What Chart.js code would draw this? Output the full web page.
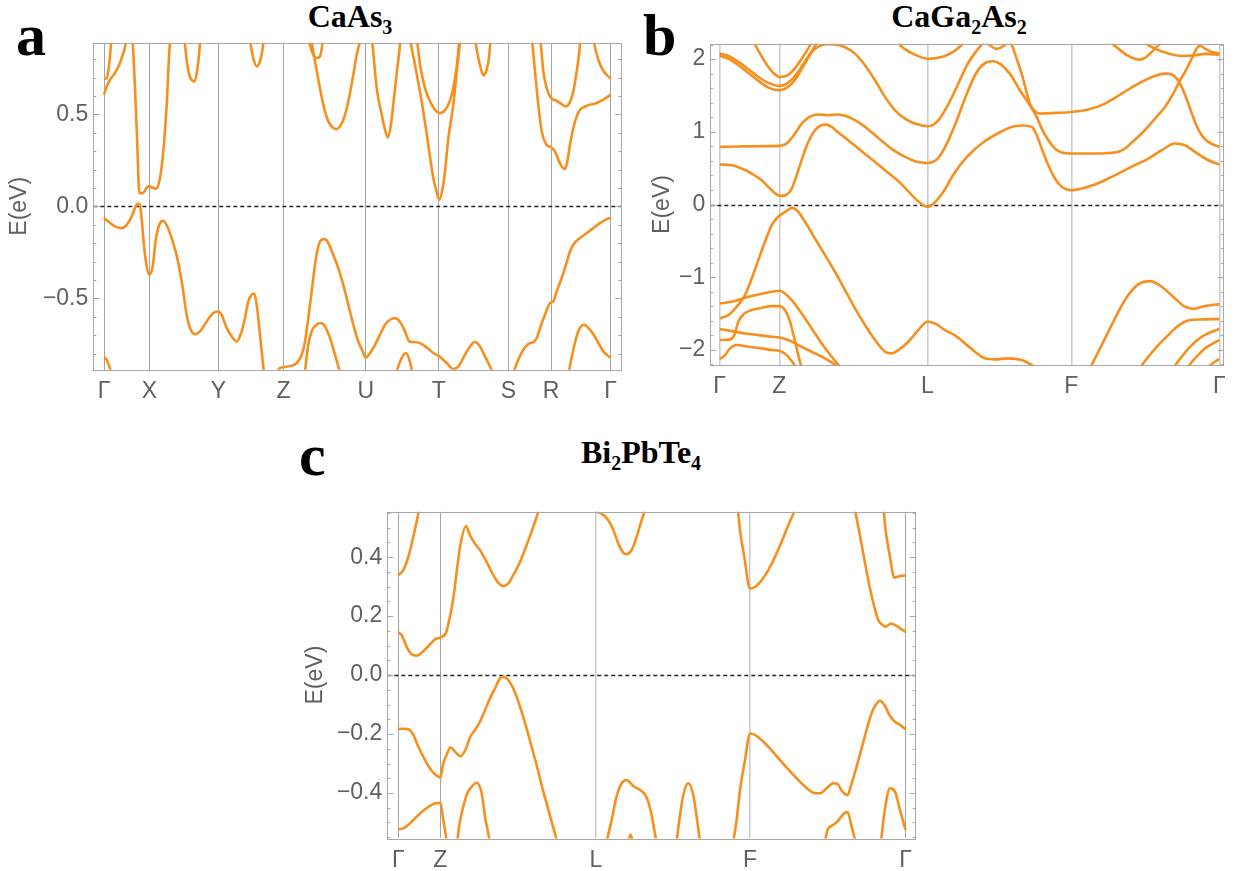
<!DOCTYPE html>
<html lang="en">
<head>
<meta charset="UTF-8">
<title>Band structures</title>
<script src="https://cdn.jsdelivr.net/npm/chart.js"></script>
<style>
  body { margin:0; background:#fff; width:1260px; height:871px; position:relative; overflow:hidden; font-family:"Liberation Sans", Arial, sans-serif; }
  .panel { position:absolute; }
  .letter { position:absolute; font-family:"Liberation Serif", serif; font-weight:bold; font-size:60px; line-height:1; color:#000; }
  .title { position:absolute; font-family:"Liberation Serif", serif; font-weight:bold; font-size:32px; line-height:1; transform:translateX(-50%); white-space:nowrap; color:#000; }
  .title sub { font-size:20px; vertical-align:-7px; line-height:0; }
</style>
</head>
<body>
  <div class="letter" style="left:16px; top:5px;">a</div>
  <div class="title" style="left:350px; top:0px;">CaAs<sub>3</sub></div>
  <div class="panel" style="left:0px; top:23.9px; width:640px; height:386.1px;"><canvas id="chartA"></canvas></div>

  <div class="letter" style="left:643px; top:5px;">b</div>
  <div class="title" style="left:959px; top:0px;">CaGa<sub>2</sub>As<sub>2</sub></div>
  <div class="panel" style="left:643px; top:24.5px; width:600px; height:385.5px;"><canvas id="chartB"></canvas></div>

  <div class="letter" style="left:299px; top:425px;">c</div>
  <div class="title" style="left:641px; top:436px;">Bi<sub>2</sub>PbTe<sub>4</sub></div>
  <div class="panel" style="left:296px; top:492.9px; width:640px; height:387.1px;"><canvas id="chartC"></canvas></div>

<script>
// ---- panel a: CaAs3 ----
const kPointsA = [0, 45.3, 114.3, 179.5, 261.7, 334.7, 404.3, 447, 506.7];
const kLabelsA = ['Γ', 'X', 'Y', 'Z', 'U', 'T', 'S', 'R', 'Γ'];
const eTicksA = [-0.5, 0, 0.5];
const eLabelsA = ['−0.5', '0.0', '0.5'];
const bandsA = [
  [[0,0.694],[2.7,0.697],[4.7,0.752],[6.7,0.861],[8,0.951]],
  [[0,0.607],[2.7,0.652],[6,0.688],[11,0.725],[15.3,0.77],[19.3,0.833],[22,0.889],[24.3,0.969],[26.7,0.969],[28.7,0.889],[31,0.643],[33.3,0.335],[35.3,0.072],[38.7,0.072],[44.3,0.109],[52,0.096],[56,0.154],[59.3,0.299],[62.7,0.553],[65.3,0.842],[66.7,0.933]],
  [[0,-0.063],[4.3,-0.082],[11,-0.109],[17.7,-0.118],[22.7,-0.1],[27.7,-0.054],[32.7,0.009],[35.3,0.014],[36.7,-0.018],[39.3,-0.172],[41,-0.263],[45.3,-0.371],[48.7,-0.326],[52,-0.172],[56,-0.091],[59.3,-0.078],[63.3,-0.109],[68.7,-0.19],[73.3,-0.281],[77.7,-0.408],[82.7,-0.589],[86,-0.661],[91,-0.694],[96,-0.679],[102.7,-0.625],[109.3,-0.58],[114.3,-0.571],[117.7,-0.589],[122.7,-0.661],[127.7,-0.707],[132.7,-0.734],[137.7,-0.679],[141,-0.607],[144.3,-0.516],[147.7,-0.48],[150.3,-0.473],[152.7,-0.534],[156,-0.697],[159.3,-0.87],[162,-0.97],[171,-0.97],[174.3,-0.888],[179.3,-0.873],[186,-0.868],[192.7,-0.851],[197.7,-0.806],[201,-0.734],[204.3,-0.607],[207.7,-0.462],[211,-0.317],[214.3,-0.217],[217.7,-0.181],[221,-0.178],[224.3,-0.199],[229.3,-0.263],[234.3,-0.335],[239.3,-0.426],[244.3,-0.534],[249.3,-0.643],[254.3,-0.734],[258.7,-0.788],[261.7,-0.821],[266,-0.797],[271,-0.752],[276,-0.697],[281,-0.643],[286,-0.616],[291,-0.607],[294.3,-0.616],[297.7,-0.643],[301,-0.679],[305.3,-0.734],[309.3,-0.737],[316,-0.743],[322.7,-0.766],[329.3,-0.797],[336,-0.818],[342.7,-0.851],[349.3,-0.884],[354.3,-0.87],[361,-0.806],[366,-0.761],[371,-0.737],[376,-0.761],[381,-0.815],[386,-0.87],[391,-0.933]],
  [[0,-0.821],[2.7,-0.833],[5.3,-0.87],[8,-0.915]],
  [[79.3,0.951],[81,0.879],[83.3,0.77],[86.7,0.694],[90.7,0.679],[93.3,0.743],[95.3,0.842],[96.7,0.951]],
  [[144.7,0.951],[146.7,0.879],[149.3,0.806],[152.7,0.761],[156,0.788],[158.7,0.861],[160.7,0.951]],
  [[203.3,0.951],[205.3,0.889],[209.3,0.824],[212.7,0.806],[216,0.815],[218.3,0.879],[220,0.951]],
  [[206,0.951],[207.7,0.889],[211,0.788],[215.3,0.661],[219.3,0.553],[224.3,0.462],[229.3,0.426],[232.7,0.42],[236,0.435],[240,0.48],[244.3,0.571],[248.7,0.697],[252.7,0.824],[256,0.897],[258,0.95]],
  [[266.7,0.951],[268.3,0.889],[272.7,0.643],[277.7,0.498],[281,0.417],[283.7,0.375],[286.7,0.435],[290,0.589],[293.3,0.752],[296,0.879],[297,0.951]],
  [[305,0.951],[306.7,0.889],[311,0.77],[315.3,0.643],[319.3,0.516],[323.3,0.371],[326.7,0.245],[329.3,0.154],[332,0.091],[335.3,0.036],[338.7,0.1],[341,0.19],[344.3,0.37],[349.3,0.55],[352.7,0.73],[356,0.89],[357.5,0.95]],
  [[311,0.951],[313.3,0.889],[316,0.77],[321,0.643],[326,0.571],[331,0.525],[335.3,0.507],[339.3,0.513],[344.3,0.553],[347.7,0.607],[351,0.697],[353.7,0.806],[356,0.951]],
  [[370,0.951],[371.7,0.889],[374.3,0.806],[376.7,0.752],[379.3,0.712],[382.7,0.743],[385.3,0.824],[387,0.951]],
  [[426.7,0.951],[428.3,0.889],[431,0.734],[434.3,0.553],[437.7,0.408],[442,0.339],[447,0.321],[451,0.299],[454.3,0.254],[457.7,0.217],[461,0.203],[463.3,0.245],[466,0.335],[469.3,0.426],[472.7,0.489],[476,0.525],[481,0.543],[486,0.553],[492.7,0.562],[499.3,0.58],[506.7,0.607]],
  [[435,0.951],[436.7,0.889],[439.3,0.734],[442.7,0.643],[447,0.589],[452.7,0.574],[457.7,0.556],[462,0.543],[466,0.567],[469.3,0.625],[472.7,0.734],[475.3,0.842],[477,0.951]],
  [[487.7,0.951],[490,0.889],[494.3,0.797],[499.3,0.737],[506.7,0.694]],
  [[199.3,-0.97],[201,-0.897],[204.3,-0.752],[207.7,-0.679],[212.7,-0.643],[216.7,-0.634],[221,-0.652],[226,-0.716],[231,-0.806],[235.3,-0.888],[237.7,-0.933]],
  [[291,-0.95],[293.3,-0.888],[297.7,-0.824],[302,-0.797],[305.3,-0.833],[307.7,-0.888],[309.3,-0.95]],
  [[407.7,-0.951],[410,-0.897],[414.3,-0.833],[419.3,-0.779],[424.3,-0.748],[429.3,-0.737],[432.7,-0.716],[436,-0.661],[441,-0.589],[446,-0.525],[449.3,-0.516],[452.7,-0.462],[457.7,-0.389],[462,-0.317],[466,-0.245],[469.3,-0.208],[476,-0.172],[482.7,-0.145],[489.3,-0.118],[496,-0.091],[502.7,-0.069],[506.7,-0.063]],
  [[463.7,-0.951],[465.3,-0.888],[469.3,-0.779],[474.3,-0.679],[480,-0.643],[486,-0.67],[492.7,-0.725],[499.3,-0.788],[506.7,-0.824]]
];

// ---- panel b: CaGa2As2 ----
const kPointsB = [0, 59.6, 207.6, 351.6, 499.6];
const kLabelsB = ['Γ', 'Z', 'L', 'F', 'Γ'];
const eTicksB = [-2, -1, 0, 1, 2];
const eLabelsB = ['−2', '−1', '0', '1', '2'];
const bandsB = [
  [[0,0.55],[12,0.541],[22,0.495],[32,0.426],[42,0.334],[50.3,0.22],[57,0.137],[61.3,0.119],[67,0.137],[71.3,0.197],[75.3,0.334],[80.3,0.541],[85.3,0.747],[92,0.953],[100.3,1.081],[107,1.099],[112,1.067],[118.6,0.989],[128.6,0.884],[138.6,0.77],[152,0.623],[165.3,0.472],[178.6,0.321],[188.6,0.183],[197,0.06],[203.6,-0.009],[207.6,-0.032],[212,-0.009],[218.6,0.082],[225.3,0.21],[233.6,0.41],[247,0.651],[263.6,0.857],[280.3,0.994],[293.6,1.072],[303.6,1.086],[312,1.067],[317,0.953],[322,0.77],[328.6,0.541],[335.3,0.357],[342,0.243],[351.6,0.197],[362,0.22],[375.3,0.275],[388.6,0.357],[402,0.449],[415.3,0.541],[428.6,0.632],[442,0.747],[455.3,0.838],[465.3,0.815],[475.3,0.724],[488.6,0.609],[499.6,0.55]],
  [[0,0.792],[18.6,0.797],[38.6,0.802],[59.6,0.806],[65.3,0.825],[70.3,0.884],[75.3,0.976],[80.3,1.081],[85.3,1.159],[92,1.219],[100.3,1.237],[108.6,1.228],[117,1.237],[125.3,1.219],[135.3,1.159],[145.3,1.067],[155.3,0.953],[165.3,0.838],[175.3,0.733],[185.3,0.655],[195.3,0.596],[202,0.577],[207.6,0.57],[213.6,0.59],[218.6,0.64],[227,0.834],[237,1.155],[247,1.521],[257,1.819],[267,1.956],[273.6,1.97],[280.3,1.934],[290.3,1.796],[300.3,1.567],[310.3,1.361],[317,1.205],[322,1.044],[328.6,0.884],[335.3,0.77],[342,0.715],[351.6,0.701],[368.6,0.701],[385.3,0.705],[398.6,0.724],[405.3,0.77],[412,0.852],[422,0.976],[435.3,1.182],[445.3,1.342],[453.6,1.525],[458.6,1.663],[465.3,1.823],[472,2.006],[477,2.144],[480.3,2.181],[485.3,2.144],[492,2.098],[499.6,2.075]],
  [[0,2.075],[8.7,2.043],[18.7,1.961],[28.7,1.86],[38.7,1.754],[48.7,1.672],[59.7,1.631],[67,1.663],[73.7,1.741],[80.3,1.86],[87,2.006],[93.7,2.121],[100.3,2.181],[108.7,2.203],[117,2.199],[125.3,2.162],[135.3,2.075],[145.3,1.915],[155.3,1.709],[165.3,1.48],[175.3,1.296],[185.3,1.182],[195.3,1.113],[208.3,1.077],[217,1.132],[227,1.338],[237,1.613],[247,1.911],[257,2.117],[262,2.2],[265,2.24],[269,2.2],[277,2.14],[286,2.2],[289,2.24],[292,2.2],[295.3,2.071],[302,1.796],[310.3,1.384],[315.3,1.283],[320.3,1.251],[335.3,1.26],[351.6,1.273],[368.6,1.306],[385.3,1.388],[402,1.525],[418.6,1.663],[435.3,1.768],[445.3,1.8],[452,1.787],[457,1.732],[462,1.617],[468.6,1.388],[475.3,1.136],[482,0.953],[488.6,0.861],[499.6,0.792]],
  [[0,2.043],[8.7,2.006],[18.7,1.915],[28.7,1.809],[38.7,1.7],[48.7,1.608],[59.7,1.571],[67,1.603],[73.7,1.686],[80.3,1.823],[87,1.984],[92.7,2.121],[97,2.217],[100.3,2.3]],
  [[32,2.3],[34.7,2.217],[40.3,2.075],[48.7,1.892],[55.3,1.787],[59.7,1.754],[65.3,1.763],[72,1.823],[78.7,1.938],[85.3,2.075],[90.3,2.19],[92.7,2.258]],
  [[175,2.3],[178.6,2.217],[185,2.14],[193.6,2.071],[208.3,2.002],[223.6,2.034],[235.3,2.117],[243,2.208],[245,2.25]],
  [[0,-1.567],[8.6,-1.521],[17,-1.406],[25.3,-1.246],[32,-1.017],[38.6,-0.765],[45.3,-0.513],[52,-0.284],[57,-0.192],[59.6,-0.156],[65.3,-0.101],[72.6,-0.046],[78.6,-0.101],[85.3,-0.238],[95.3,-0.467],[105.3,-0.696],[115.3,-0.925],[125.3,-1.177],[135.3,-1.429],[145.3,-1.658],[155.3,-1.864],[165.3,-2.025],[172,-2.048],[178.6,-2.002],[188.6,-1.887],[198.6,-1.727],[207.6,-1.612],[215.3,-1.635],[225.3,-1.727],[235.3,-1.8],[245.3,-1.91],[255.3,-2.025],[265.3,-2.116],[275.3,-2.13],[288.6,-2.116],[302,-2.139],[315.3,-2.231]],
  [[0,-1.36],[12,-1.338],[25.3,-1.283],[38.6,-1.237],[52,-1.2],[59.6,-1.186],[65.3,-1.223],[72,-1.315],[82,-1.498],[92,-1.704],[102,-1.91],[112,-2.093],[120.3,-2.231]],
  [[0,-1.864],[10.3,-1.855],[14.6,-1.796],[18.6,-1.612],[23.6,-1.512],[32,-1.452],[42,-1.42],[52,-1.397],[59.6,-1.397],[65.3,-1.452],[70.3,-1.612],[74.6,-1.841],[78.6,-2.071],[82,-2.254]],
  [[0,-1.713],[12,-1.741],[25.3,-1.773],[38.6,-1.796],[52,-1.819],[59.6,-1.828],[68.6,-1.864],[78.6,-1.933],[92,-2.025],[105.3,-2.116],[118.6,-2.231]],
  [[0,-2.125],[5.3,-2.071],[10.3,-1.979],[17,-1.933],[28.6,-1.956],[42,-1.979],[52,-2.002],[59.6,-2.011],[67,-2.071],[73.6,-2.185],[78.6,-2.277]],
  [[370.3,-2.254],[378.6,-2.025],[388.6,-1.75],[398.6,-1.475],[408.6,-1.246],[418.6,-1.099],[430.3,-1.054],[442,-1.131],[455.3,-1.292],[465.3,-1.406],[473.6,-1.438],[482,-1.406],[492,-1.383],[499.6,-1.37]],
  [[418.6,-2.277],[428.6,-2.093],[438.6,-1.933],[448.6,-1.796],[458.6,-1.667],[468.6,-1.594],[482,-1.58],[499.6,-1.576]],
  [[452,-2.277],[462,-2.093],[472,-1.933],[482,-1.819],[492,-1.75],[499.6,-1.713]],
  [[465.3,-2.277],[475.3,-2.116],[485.3,-1.979],[493.6,-1.91],[499.6,-1.864]],
  [[488.6,-2.231],[495.3,-2.162],[499.6,-2.125]],
  [[389,2.26],[392,2.217],[398.6,2.144],[408.6,2.043],[418.6,1.993],[425.3,2.016],[432,2.098],[438.6,2.19],[442,2.25]],
  [[422,2.26],[425.3,2.217],[435.3,2.144],[448.6,2.075],[462,2.043],[475.3,2.052],[485.3,2.071],[499.6,2.061]]
];

// ---- panel c: Bi2PbTe4 ----
const kPointsC = [0, 42, 197.7, 351.7, 507.4];
const kLabelsC = ['Γ', 'Z', 'L', 'F', 'Γ'];
const eTicksC = [-0.4, -0.2, 0, 0.2, 0.4];
const eLabelsC = ['−0.4', '−0.2', '0.0', '0.2', '0.4'];
const bandsC = [
  [[0,0.339],[5,0.356],[10,0.401],[15,0.469],[20,0.548],[21.7,0.582]],
  [[0,0.145],[3.3,0.136],[8.3,0.096],[13.3,0.071],[18.3,0.066],[23.3,0.076],[30,0.098],[36.7,0.121],[42,0.128],[47.7,0.144],[52.3,0.209],[55.7,0.277],[59,0.367],[62.3,0.446],[67.7,0.505],[71.7,0.475],[76.7,0.446],[81.7,0.424],[88.3,0.384],[95,0.339],[100,0.313],[105,0.302],[110,0.311],[115,0.339],[121.7,0.384],[128.3,0.441],[135,0.503],[140,0.554],[141.7,0.571]],
  [[197.7,0.554],[203.3,0.548],[210,0.525],[215,0.492],[220,0.446],[224.3,0.418],[228.3,0.41],[233.3,0.424],[238.3,0.469],[243.3,0.525],[246.7,0.559],[248.3,0.576]],
  [[0,-0.183],[5,-0.182],[10,-0.184],[15,-0.203],[20,-0.243],[25,-0.277],[30,-0.308],[35,-0.331],[40,-0.345],[42,-0.347],[45,-0.299],[48.3,-0.271],[52.3,-0.245],[56.7,-0.26],[62.3,-0.275],[67.7,-0.249],[71.7,-0.211],[76.7,-0.186],[81.7,-0.158],[86.7,-0.119],[91.7,-0.079],[96.7,-0.045],[101.7,-0.011],[105,-0.006],[108.3,-0.011],[113.3,-0.034],[118.3,-0.073],[123.3,-0.124],[128.3,-0.181],[133.3,-0.243],[138.3,-0.305],[143.3,-0.373],[148.3,-0.435],[153.3,-0.497],[156.7,-0.537],[158.3,-0.559]],
  [[0,-0.523],[5,-0.52],[11.7,-0.503],[18.3,-0.48],[25,-0.46],[31.7,-0.444],[36.7,-0.435],[42,-0.433],[45,-0.492],[47.7,-0.548],[48.3,-0.565]],
  [[59,-0.565],[61,-0.508],[65,-0.446],[69,-0.401],[73.3,-0.379],[78.3,-0.365],[83.3,-0.399],[86.7,-0.48],[90,-0.537],[91.7,-0.565]],
  [[208.3,-0.565],[213.3,-0.492],[218.3,-0.412],[223.3,-0.367],[228.3,-0.356],[235,-0.376],[241.7,-0.39],[246.7,-0.405],[250,-0.43],[253.3,-0.475],[256,-0.525],[258,-0.565]],
  [[230,-0.565],[232.3,-0.542],[234.3,-0.565]],
  [[278.3,-0.565],[281,-0.492],[285,-0.407],[290,-0.367],[295,-0.407],[298.3,-0.48],[301.7,-0.565]],
  [[335,-0.565],[338.3,-0.492],[341.7,-0.39],[346.7,-0.288],[351.7,-0.198],[356.7,-0.203],[363.3,-0.22],[371.7,-0.249],[380,-0.282],[390,-0.32],[400,-0.356],[410,-0.388],[415,-0.399],[421.7,-0.401],[428.3,-0.384],[435,-0.367],[439.3,-0.369],[443.3,-0.392],[449.3,-0.407],[453.3,-0.367],[458.3,-0.311],[463.3,-0.249],[468.3,-0.186],[473.3,-0.13],[476.7,-0.105],[481.7,-0.087],[486.7,-0.105],[491.7,-0.139],[496.7,-0.158],[501.7,-0.169],[507.3,-0.184]],
  [[426.7,-0.565],[429.3,-0.525],[435,-0.508],[440,-0.494],[445,-0.471],[449.3,-0.465],[453.3,-0.514],[457.3,-0.565]],
  [[482.7,-0.565],[486,-0.469],[491.7,-0.384],[496.7,-0.395],[501.7,-0.458],[507.3,-0.525]],
  [[339.3,0.571],[341.7,0.492],[346,0.401],[351.7,0.294],[356.7,0.299],[363.3,0.322],[370,0.356],[376.7,0.401],[383.3,0.452],[390,0.508],[396,0.554],[398.3,0.571]],
  [[456,0.571],[460,0.503],[465,0.412],[470,0.322],[476,0.232],[480,0.186],[483.3,0.173],[487.3,0.164],[492.7,0.175],[498.3,0.167],[503.3,0.155],[507.3,0.147]],
  [[485,0.571],[487.3,0.492],[491.7,0.401],[496,0.331],[501.7,0.336],[507.3,0.338]]
];

const ORANGE = '#f78f1e';
const TEXT = '#606060';
const FRAME = '#a8a8a8';

// frame, inward ticks on both sides and the dashed Fermi level
const bandFrame = {
  id: 'bandFrame',
  beforeDatasetsDraw(chart, args, opts) {
    const {ctx, chartArea: a, scales: {y}} = chart;
    const y0 = Math.round(y.getPixelForValue(0)) + 0.5;
    ctx.save();
    ctx.strokeStyle = '#222';
    ctx.lineWidth = 1.3;
    ctx.setLineDash([4, 3]);
    ctx.beginPath();
    ctx.moveTo(a.left, y0);
    ctx.lineTo(a.right, y0);
    ctx.stroke();
    ctx.restore();
  },
  afterDatasetsDraw(chart, args, opts) {
    const {ctx, chartArea: a, scales: {y}} = chart;
    ctx.save();
    ctx.strokeStyle = FRAME;
    ctx.lineWidth = 1;
    ctx.strokeRect(Math.round(a.left) + 0.5, Math.round(a.top) + 0.5,
                   Math.round(a.right - a.left), Math.round(a.bottom - a.top));
    const step = opts.minor;
    const start = Math.ceil(y.min / step - 1e-6);
    const end = Math.floor(y.max / step + 1e-6);
    ctx.beginPath();
    for (let i = start; i <= end; i++) {
      const v = i * step;
      const isMajor = opts.major.some(m => Math.abs(m - v) < 1e-6);
      const len = isMajor ? 6 : 3;
      const py = Math.round(y.getPixelForValue(v)) + 0.5;
      ctx.moveTo(a.left, py); ctx.lineTo(a.left + len, py);
      ctx.moveTo(a.right, py); ctx.lineTo(a.right - len, py);
    }
    ctx.stroke();
    ctx.restore();
  }
};

function makeChart(canvasId, bands, kPoints, kLabels, eTicks, eLabels, ranges, gridColors, gridWidths, layout) {
  const datasets = bands.map(b => ({
    data: b.map(p => ({x: p[0], y: p[1]})),
    showLine: true,
    borderColor: ORANGE,
    borderWidth: 2.6,
    pointRadius: 0,
    cubicInterpolationMode: 'monotone',
    clip: 0
  }));
  return new Chart(document.getElementById(canvasId), {
    type: 'scatter',
    data: {datasets},
    plugins: [bandFrame],
    options: {
      responsive: true,
      maintainAspectRatio: false,
      animation: false,
      events: [],
      // top gap comes from the y tick label half-height (13.8) + tick padding (5)
      layout: {autoPadding: false, padding: {top: 0, right: layout.right, left: 0, bottom: 0}},
      plugins: {
        legend: {display: false},
        tooltip: {enabled: false},
        bandFrame: {major: eTicks, minor: ranges.minor}
      },
      scales: {
        x: {
          type: 'linear',
          min: ranges.xmin, max: ranges.xmax,
          afterBuildTicks: s => { s.ticks = kPoints.map(v => ({value: v})); },
          afterFit: s => { s.height = layout.xh; },
          ticks: {
            autoSkip: false, maxRotation: 0, padding: layout.xpad,
            color: TEXT, font: {family: 'Liberation Sans', size: 23},
            callback: (v, i) => kLabels[i]
          },
          grid: {
            drawTicks: false,
            color: ctx => gridColors[ctx.index],
            lineWidth: ctx => gridWidths[ctx.index]
          },
          border: {display: false}
        },
        y: {
          min: ranges.ymin, max: ranges.ymax,
          afterBuildTicks: s => { s.ticks = eTicks.map(v => ({value: v})); },
          afterFit: s => { s.width = layout.yw; },
          ticks: {
            padding: 5, color: TEXT, font: {family: 'Liberation Sans', size: 23},
            callback: (v, i) => eLabels[i]
          },
          grid: {display: false, drawTicks: false},
          border: {display: false},
          title: {
            display: true, text: 'E(eV)', color: TEXT,
            font: {family: 'Liberation Sans', size: 23},
            padding: {top: 6, bottom: 0}
          }
        }
      }
    }
  });
}

const greyA = '#a4a4a4', lightB = '#cdcdcd';
makeChart('chartA', bandsA, kPointsA, kLabelsA, eTicksA, eLabelsA,
  {xmin: -10.7, xmax: 517, ymin: -0.888, ymax: 0.889, minor: 0.1},
  kPointsA.map(() => greyA), kPointsA.map(() => 1),
  {right: 19, yw: 93.3, xh: 40.3, xpad: 8});

makeChart('chartB', bandsB, kPointsB, kLabelsB, eTicksB, eLabelsB,
  {xmin: -9.4, xmax: 504, ymin: -2.21, ymax: 2.21, minor: 0.2},
  kPointsB.map(() => lightB), kPointsB.map(() => 1.6),
  {right: 19.3, yw: 67.3, xh: 45.3, xpad: 8});

makeChart('chartC', bandsC, kPointsC, kLabelsC, eTicksC, eLabelsC,
  {xmin: -11, xmax: 517.4, ymin: -0.554, ymax: 0.554, minor: 0.05},
  [greyA, greyA, lightB, lightB, greyA], [1, 1, 1.6, 1.6, 1],
  {right: 20.3, yw: 91.3, xh: 41.7, xpad: 8});
</script>
</body>
</html>
